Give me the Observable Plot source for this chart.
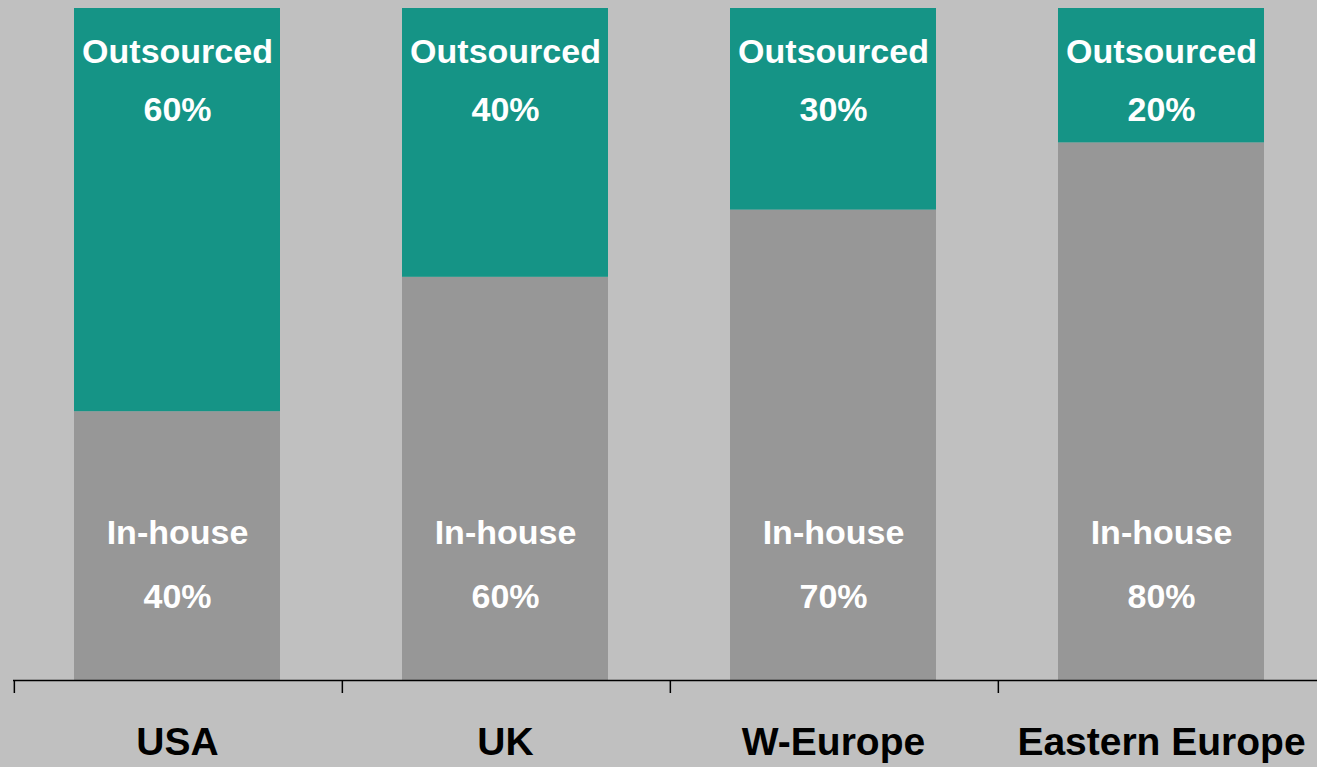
<!DOCTYPE html>
<html>
<head>
<meta charset="utf-8">
<script src="https://cdn.jsdelivr.net/npm/d3@7"></script>
<script src="https://cdn.jsdelivr.net/npm/@observablehq/plot@0.6"></script>
<style>
  html, body { margin: 0; padding: 0; background: #c0c0c0; overflow: hidden; }
  svg { display: block; }
</style>
</head>
<body>
<div id="chart"></div>
<script>
const countries = ["USA", "UK", "W-Europe", "Eastern Europe"];
const inHouse = [0.40, 0.60, 0.70, 0.80];
const outsourced = [0.60, 0.40, 0.30, 0.20];
const seriesNames = ["In-house", "Outsourced"];
const seriesColors = ["#979797", "#159486"];

const rows = [];
countries.forEach((c, i) => {
  rows.push({country: c, type: "In-house", value: inHouse[i]});
  rows.push({country: c, type: "Outsourced", value: outsourced[i]});
});
const fmt = d3.format(".0%");
const labelFont = "Liberation Sans, Arial, Helvetica, sans-serif";
const x0 = 12, step = 328.3;

const chart = Plot.plot({
  width: 1317,
  height: 767,
  marginTop: 8,
  marginBottom: 87,
  marginLeft: 13,
  marginRight: 0,
  style: {background: "#c0c0c0", fontFamily: labelFont},
  x: {domain: countries, range: [x0, x0 + step * countries.length], paddingInner: 0.3725, paddingOuter: 0.18625, axis: null},
  y: {domain: [0, 1], axis: null},
  color: {domain: seriesNames, range: seriesColors},
  marks: [
    Plot.barY(rows, {x: "country", y: "value", fill: "type"}),
    // outsourced labels near the top
    Plot.text(countries, {x: d => d, frameAnchor: "top", dy: 44, text: () => "Outsourced",
      fill: "white", fontSize: 34, fontWeight: "bold", lineAnchor: "middle"}),
    Plot.text(countries, {x: d => d, frameAnchor: "top", dy: 102, text: (d, i) => fmt(outsourced[i]),
      fill: "white", fontSize: 34, fontWeight: "bold", lineAnchor: "middle"}),
    // in-house labels near the bottom
    Plot.text(countries, {x: d => d, frameAnchor: "bottom", dy: -147, text: () => "In-house",
      fill: "white", fontSize: 34, fontWeight: "bold", lineAnchor: "middle"}),
    Plot.text(countries, {x: d => d, frameAnchor: "bottom", dy: -83, text: (d, i) => fmt(inHouse[i]),
      fill: "white", fontSize: 34, fontWeight: "bold", lineAnchor: "middle"}),
    // baseline
    Plot.ruleY([0], {stroke: "black", strokeWidth: 1.5}),
    // boundary ticks
    Plot.axisX({tickSize: 13, tickFormat: () => "", label: null, dx: -step / 2 + 1, stroke: "black", strokeWidth: 1.5}),
    // category labels
    Plot.axisX({tickSize: 0, tickPadding: 47, label: null, fontSize: 39, fontWeight: "bold", fill: "black"})
  ]
});
document.getElementById("chart").appendChild(chart);
</script>
</body>
</html>
